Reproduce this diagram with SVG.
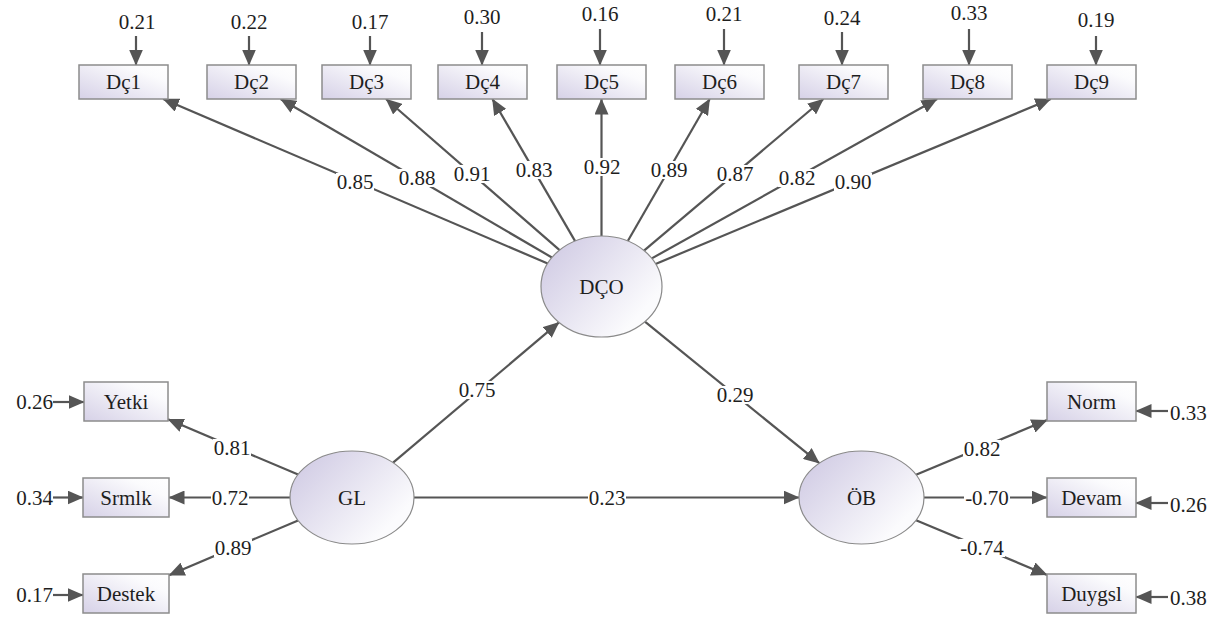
<svg xmlns="http://www.w3.org/2000/svg" width="1219" height="617" viewBox="0 0 1219 617">
<defs>
<linearGradient id="gBox" x1="0" y1="1" x2="1" y2="0">
<stop offset="0" stop-color="#d6d1e7"/>
<stop offset="0.75" stop-color="#fbfbfd"/>
<stop offset="1" stop-color="#ffffff"/>
</linearGradient>
<linearGradient id="gEll" x1="0.05" y1="0.25" x2="0.8" y2="0.8">
<stop offset="0" stop-color="#d4cfe6"/>
<stop offset="1" stop-color="#fbfbfd"/>
</linearGradient>
<marker id="ah" markerUnits="userSpaceOnUse" markerWidth="16" markerHeight="14" refX="15.5" refY="7" orient="auto">
<path d="M0,0 L16,7 L0,14 z" fill="#555"/>
</marker>
</defs>
<style>
.box{fill:url(#gBox);stroke:#8c8c8c;stroke-width:1.5}
.ell{fill:url(#gEll);stroke:#8a8a8a;stroke-width:1.2}
.c{stroke:#555;stroke-width:2.2;fill:none;marker-end:url(#ah)}
.bg{fill:#fff}
text{font-family:'Liberation Serif',serif;font-size:21px;fill:#1e1e1e}
</style>
<rect width="1219" height="617" fill="#fff"/>

<g font-family="Liberation Serif" font-size="21" fill="#1e1e1e">
<g id="connectors">
<line class="c" x1="136" y1="36" x2="136" y2="65"/>
<line class="c" x1="249" y1="36" x2="249" y2="65"/>
<line class="c" x1="370" y1="36" x2="370" y2="65"/>
<line class="c" x1="482" y1="32" x2="482" y2="65"/>
<line class="c" x1="600" y1="29" x2="600" y2="65"/>
<line class="c" x1="724" y1="29" x2="724" y2="65"/>
<line class="c" x1="842" y1="32" x2="842" y2="65"/>
<line class="c" x1="969" y1="29" x2="969" y2="65"/>
<line class="c" x1="1096" y1="36" x2="1096" y2="65"/>
<line class="c" x1="53" y1="402" x2="84" y2="402"/>
<line class="c" x1="53" y1="497.5" x2="83" y2="497.5"/>
<line class="c" x1="53" y1="595" x2="83" y2="595"/>
<line class="c" x1="1168" y1="411" x2="1136" y2="411"/>
<line class="c" x1="1168" y1="503" x2="1136" y2="503"/>
<line class="c" x1="1168" y1="597" x2="1136" y2="597"/>
<line class="c" x1="547.7" y1="263.5" x2="163.2" y2="99"/>
<line class="c" x1="551.9" y1="257.5" x2="280.6" y2="99"/>
<line class="c" x1="559.6" y1="250.1" x2="386" y2="99"/>
<line class="c" x1="575.1" y1="241.1" x2="492.4" y2="99"/>
<line class="c" x1="601.5" y1="236" x2="601.5" y2="99"/>
<line class="c" x1="627.8" y1="241" x2="709.7" y2="99"/>
<line class="c" x1="644" y1="250.6" x2="823.4" y2="99"/>
<line class="c" x1="651.8" y1="258.4" x2="937.1" y2="99"/>
<line class="c" x1="655.6" y1="263.9" x2="1050.8" y2="99"/>
<line class="c" x1="298.1" y1="474.6" x2="168" y2="419.3"/>
<line class="c" x1="290" y1="497.5" x2="169" y2="497.5"/>
<line class="c" x1="298.1" y1="520.4" x2="169" y2="575.2"/>
<line class="c" x1="916" y1="474.7" x2="1047" y2="420.1"/>
<line class="c" x1="924" y1="497.5" x2="1047" y2="497.5"/>
<line class="c" x1="916" y1="520.3" x2="1047" y2="574.9"/>
<line class="c" x1="393.1" y1="462.7" x2="559" y2="322.4"/>
<line class="c" x1="644.9" y1="321.7" x2="819.3" y2="463.2"/>
<line class="c" x1="414" y1="497.5" x2="799" y2="497.5"/>

<rect class="bg" x="336" y="173" width="38" height="18"/>
<rect class="bg" x="398" y="169" width="38" height="18"/>
<rect class="bg" x="453" y="165" width="38" height="18"/>
<rect class="bg" x="515" y="161" width="38" height="18"/>
<rect class="bg" x="583" y="158" width="38" height="18"/>
<rect class="bg" x="650" y="161" width="38" height="18"/>
<rect class="bg" x="716" y="165" width="38" height="18"/>
<rect class="bg" x="778" y="169" width="38" height="18"/>
<rect class="bg" x="834" y="173" width="38" height="18"/>
<rect class="bg" x="213" y="439" width="38" height="18"/>
<rect class="bg" x="211" y="488.5" width="38" height="18"/>
<rect class="bg" x="214" y="539" width="38" height="18"/>
<rect class="bg" x="963" y="440" width="38" height="18"/>
<rect class="bg" x="964" y="488.5" width="46" height="18"/>
<rect class="bg" x="959" y="539" width="46" height="18"/>
<rect class="bg" x="458" y="381" width="38" height="18"/>
<rect class="bg" x="716" y="386" width="38" height="18"/>
<rect class="bg" x="588" y="489" width="38" height="18"/>

<g text-anchor="middle">
<text x="355" y="189">0.85</text>
<text x="417" y="185">0.88</text>
<text x="472" y="181">0.91</text>
<text x="534" y="177">0.83</text>
<text x="602" y="174">0.92</text>
<text x="669" y="177">0.89</text>
<text x="735" y="181">0.87</text>
<text x="797" y="185">0.82</text>
<text x="853" y="189">0.90</text>
<text x="232" y="455">0.81</text>
<text x="230" y="504.5">0.72</text>
<text x="233" y="555">0.89</text>
<text x="982" y="456">0.82</text>
<text x="987" y="504.5">-0.70</text>
<text x="982" y="555">-0.74</text>
<text x="477" y="397">0.75</text>
<text x="735" y="402">0.29</text>
<text x="607" y="505">0.23</text>
</g>
</g>

<g id="errors">
<g text-anchor="middle">
<text x="137" y="29">0.21</text>
<text x="249" y="29">0.22</text>
<text x="370" y="29">0.17</text>
<text x="482" y="24">0.30</text>
<text x="600" y="21">0.16</text>
<text x="724" y="21">0.21</text>
<text x="842" y="25">0.24</text>
<text x="969" y="20">0.33</text>
<text x="1096" y="27">0.19</text>
</g>
<text x="53" y="409" text-anchor="end">0.26</text>
<text x="53" y="504.5" text-anchor="end">0.34</text>
<text x="53" y="602" text-anchor="end">0.17</text>
<text x="1170" y="420">0.33</text>
<text x="1170" y="512">0.26</text>
<text x="1170" y="605">0.38</text>
</g>

<g text-anchor="middle">
<g id="Dc1"><rect class="box" x="79" y="65" width="89" height="34"/><text x="123.5" y="89">Dç1</text></g>
<g id="Dc2"><rect class="box" x="207" y="65" width="89" height="34"/><text x="251.5" y="89">Dç2</text></g>
<g id="Dc3"><rect class="box" x="322" y="65" width="89" height="34"/><text x="366.5" y="89">Dç3</text></g>
<g id="Dc4"><rect class="box" x="438" y="65" width="89" height="34"/><text x="482.5" y="89">Dç4</text></g>
<g id="Dc5"><rect class="box" x="557" y="65" width="89" height="34"/><text x="601.5" y="89">Dç5</text></g>
<g id="Dc6"><rect class="box" x="675" y="65" width="89" height="34"/><text x="719.5" y="89">Dç6</text></g>
<g id="Dc7"><rect class="box" x="799" y="65" width="89" height="34"/><text x="843.5" y="89">Dç7</text></g>
<g id="Dc8"><rect class="box" x="923" y="65" width="89" height="34"/><text x="967.5" y="89">Dç8</text></g>
<g id="Dc9"><rect class="box" x="1047" y="65" width="89" height="34"/><text x="1091.5" y="89">Dç9</text></g>

<g id="Yetki"><rect class="box" x="84" y="382" width="84" height="39"/><text x="126" y="409">Yetki</text></g>
<g id="Srmlk"><rect class="box" x="83" y="478" width="86" height="39"/><text x="126" y="505">Srmlk</text></g>
<g id="Destek"><rect class="box" x="83" y="574" width="86" height="39"/><text x="126" y="601">Destek</text></g>

<g id="Norm"><rect class="box" x="1047" y="382" width="89" height="39"/><text x="1091.5" y="409">Norm</text></g>
<g id="Devam"><rect class="box" x="1047" y="478" width="89" height="39"/><text x="1091.5" y="505">Devam</text></g>
<g id="Duygsl"><rect class="box" x="1047" y="574" width="89" height="39"/><text x="1091.5" y="601">Duygsl</text></g>

<g id="DCO"><ellipse class="ell" cx="601.5" cy="286.5" rx="60.5" ry="50.5"/><text x="601.5" y="294">DÇO</text></g>
<g id="GL"><ellipse class="ell" cx="352" cy="497.5" rx="62" ry="46.5"/><text x="352" y="505">GL</text></g>
<g id="OB"><ellipse class="ell" cx="861.5" cy="497.5" rx="62.5" ry="46.5"/><text x="861.5" y="505">ÖB</text></g>
</g>
</g>
</svg>
